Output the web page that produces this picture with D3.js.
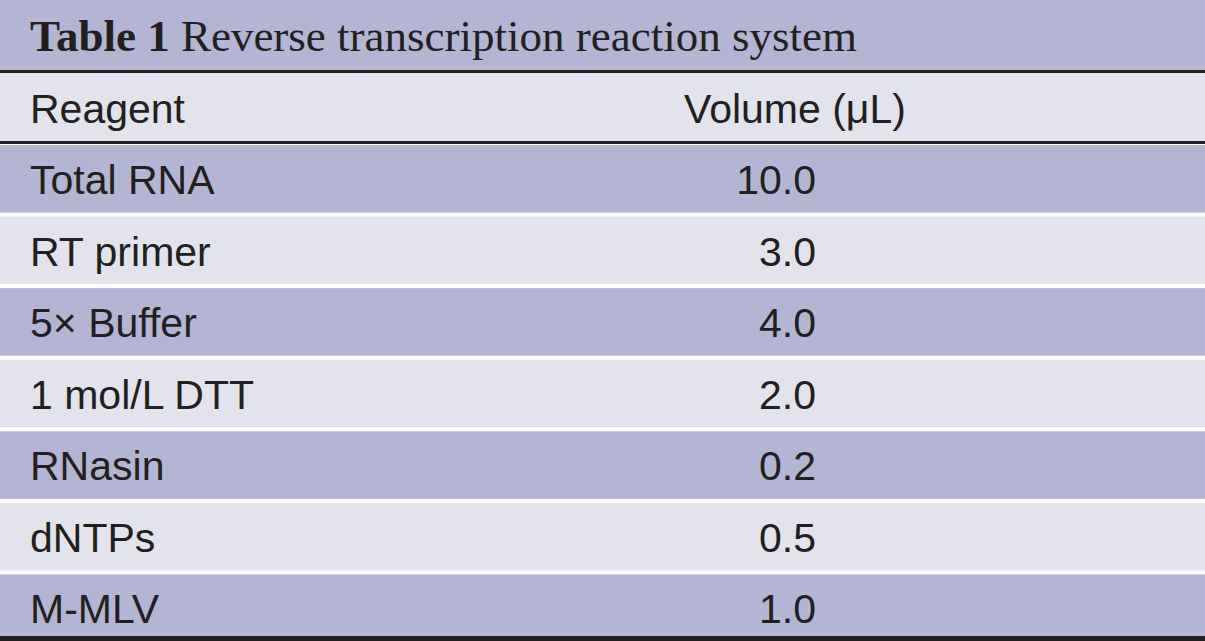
<!DOCTYPE html>
<html><head><meta charset="utf-8">
<script src="https://cdn.jsdelivr.net/npm/d3@7"></script>
<style>body{margin:0;background:#fff}</style></head>
<body><svg id="c" width="1205" height="641"></svg>
<script>
const reagents=["Total RNA","RT primer","5× Buffer","1 mol/L DTT","RNasin","dNTPs","M-MLV"];
const volumes=["10.0","3.0","4.0","2.0","0.2","0.5","1.0"];
const headers=["Reagent","Volume (μL)"];
const svg=d3.select("#c");
const dark="#b3b5d2", light="#e2e3ec";
const y=d3.scaleBand().domain(d3.range(reagents.length)).range([144,645]).paddingInner(0);
svg.append("rect").attr("x",0).attr("y",0).attr("width",1205).attr("height",71).attr("fill",dark);
const t=svg.append("text").attr("x",30).attr("y",51).attr("font-family","Liberation Serif").attr("font-size",45).attr("fill","#231f20");
t.append("tspan").attr("font-weight","bold").text("Table 1");
t.append("tspan").text(" Reverse transcription reaction system");
svg.append("rect").attr("x",0).attr("y",72).attr("width",1205).attr("height",70).attr("fill",light);
svg.append("text").attr("x",30).attr("y",123).attr("font-family","Liberation Sans").attr("font-size",41).attr("fill","#231f20").text(headers[0]);
svg.append("text").attr("x",795).attr("y",123).attr("text-anchor","middle").attr("font-family","Liberation Sans").attr("font-size",41).attr("fill","#231f20").text(headers[1]);
const g=svg.selectAll("g.r").data(reagents).join("g").attr("class","r").attr("transform",(d,i)=>`translate(0,${y(i)})`);
g.append("rect").attr("x",0).attr("y",1).attr("width",1205).attr("height",(d,i)=>i===reagents.length-1?y.bandwidth():y.bandwidth()-4).attr("fill",(d,i)=>i%2?light:dark);
g.append("text").attr("x",30).attr("y",50).attr("font-family","Liberation Sans").attr("font-size",41).attr("fill","#231f20").text(d=>d);
g.append("text").attr("x",816).attr("y",50).attr("text-anchor","end").attr("font-family","Liberation Sans").attr("font-size",41).attr("fill","#231f20").text((d,i)=>volumes[i]);
svg.append("rect").attr("x",0).attr("y",70).attr("width",1205).attr("height",3).attr("fill","#231f20");
svg.append("rect").attr("x",0).attr("y",141).attr("width",1205).attr("height",3).attr("fill","#231f20");
svg.append("rect").attr("x",0).attr("y",636).attr("width",1205).attr("height",5).attr("fill","#231f20");
</script></body></html>
